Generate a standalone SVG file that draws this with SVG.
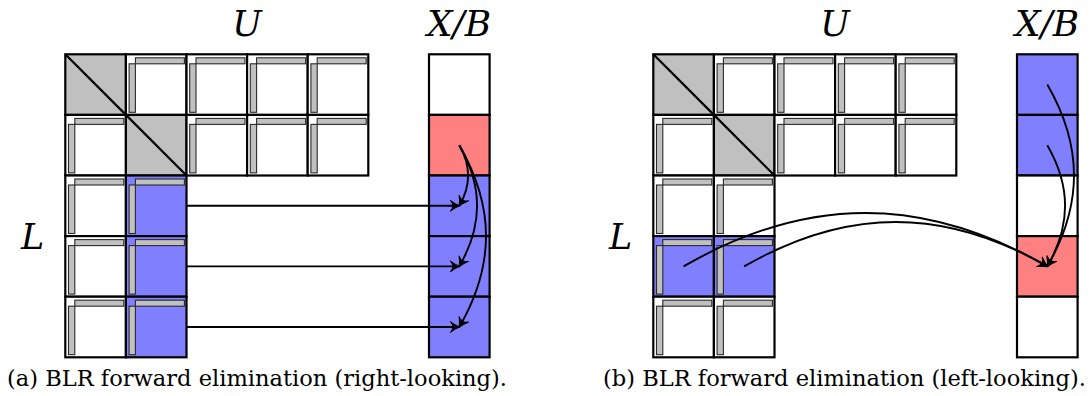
<svg xmlns="http://www.w3.org/2000/svg" xmlns:xlink="http://www.w3.org/1999/xlink" width="1091" height="396" viewBox="0 0 1091 396">
<style>
.cell{stroke:#000;stroke-width:2.2}
.w{fill:#fff}.g{fill:#c0c0c0}.b{fill:#8080ff}.r{fill:#ff8080}
.bar rect{fill:#c0c0c0;stroke:#2a2a2a;stroke-width:1.1}
.diag{stroke:#000;stroke-width:2.2}
.arr{fill:none;stroke:#000;stroke-width:1.9;marker-end:url(#ah)}
.math{font-family:"DejaVu Serif","Liberation Serif",serif;font-style:italic;font-size:35px;fill:#000}
.cap{font-family:"DejaVu Serif","Liberation Serif",serif;font-size:22px;fill:#000}
</style>
<defs>
<g id="bars" class="bar"><rect x="9.5" y="3.5" width="49" height="6"/><rect x="3.2" y="9.5" width="6.3" height="48.5"/></g>
<g id="dg"><rect class="cell g" width="60.6" height="60.6"/><line class="diag" x1="0" y1="0" x2="60.6" y2="60.6"/></g>
<g id="lw"><rect class="cell w" width="60.6" height="60.6"/><use xlink:href="#bars"/></g>
<g id="lb"><rect class="cell b" width="60.6" height="60.6"/><use xlink:href="#bars"/></g>
<marker id="ah" viewBox="-11 -7 13 14" refX="0" refY="0" markerWidth="13" markerHeight="14" markerUnits="userSpaceOnUse" orient="auto"><path d="M0.5,0 Q-4,-1.6 -9,-5.5 Q-6.2,-2 -6.6,0 Q-6.2,2 -9,5.5 Q-4,1.6 0.5,0 Z" fill="#000" stroke="#000" stroke-width="0.9" stroke-linejoin="round"/></marker>
</defs>

<!-- (a) right-looking -->
<g id="a-labels">
<text class="math" x="247" y="36" text-anchor="middle">U</text>
<text class="math" x="459" y="36" text-anchor="middle" textLength="64" lengthAdjust="spacingAndGlyphs">X/B</text>
<text class="math" x="21" y="249">L</text>
</g>
<g id="a-matrix">
<g id="a-r0c0"><use xlink:href="#dg" x="65.3" y="54.3"/></g>
<g id="a-r0c1"><use xlink:href="#lw" x="125.9" y="54.3"/></g>
<g id="a-r0c2"><use xlink:href="#lw" x="186.5" y="54.3"/></g>
<g id="a-r0c3"><use xlink:href="#lw" x="247.1" y="54.3"/></g>
<g id="a-r0c4"><use xlink:href="#lw" x="307.7" y="54.3"/></g>
<g id="a-r1c0"><use xlink:href="#lw" x="65.3" y="114.9"/></g>
<g id="a-r1c1"><use xlink:href="#dg" x="125.9" y="114.9"/></g>
<g id="a-r1c2"><use xlink:href="#lw" x="186.5" y="114.9"/></g>
<g id="a-r1c3"><use xlink:href="#lw" x="247.1" y="114.9"/></g>
<g id="a-r1c4"><use xlink:href="#lw" x="307.7" y="114.9"/></g>
<g id="a-r2c0"><use xlink:href="#lw" x="65.3" y="175.5"/></g>
<g id="a-r2c1"><use xlink:href="#lb" x="125.9" y="175.5"/></g>
<g id="a-r3c0"><use xlink:href="#lw" x="65.3" y="236.1"/></g>
<g id="a-r3c1"><use xlink:href="#lb" x="125.9" y="236.1"/></g>
<g id="a-r4c0"><use xlink:href="#lw" x="65.3" y="296.7"/></g>
<g id="a-r4c1"><use xlink:href="#lb" x="125.9" y="296.7"/></g>
</g>
<g id="a-vector">
<g id="a-v0"><rect class="cell w" x="429" y="54.3" width="60.6" height="60.6"/></g>
<g id="a-v1"><rect class="cell r" x="429" y="114.9" width="60.6" height="60.6"/></g>
<g id="a-v2"><rect class="cell b" x="429" y="175.5" width="60.6" height="60.6"/></g>
<g id="a-v3"><rect class="cell b" x="429" y="236.1" width="60.6" height="60.6"/></g>
<g id="a-v4"><rect class="cell b" x="429" y="296.7" width="60.6" height="60.6"/></g>
</g>
<g id="a-connectors">
<path class="arr" d="M186.5,205.8 H459.3"/>
<path class="arr" d="M186.5,266.4 H459.3"/>
<path class="arr" d="M186.5,327 H459.3"/>
<path class="arr" d="M459.3,145.2 C471.2,165.7 471.2,185.3 459.3,205.8"/>
<path class="arr" d="M459.3,145.2 C483,186.3 483,225.3 459.3,266.4"/>
<path class="arr" d="M459.3,145.2 C494.9,206.8 494.9,265.4 459.3,327"/>
</g>
<text id="cap-a" class="cap" x="7" y="386" textLength="500" lengthAdjust="spacingAndGlyphs">(a) BLR forward elimination (right-looking).</text>

<!-- (b) left-looking -->
<g id="b-labels">
<text class="math" x="835" y="36" text-anchor="middle">U</text>
<text class="math" x="1047" y="36" text-anchor="middle" textLength="64" lengthAdjust="spacingAndGlyphs">X/B</text>
<text class="math" x="609" y="249">L</text>
</g>
<g id="b-matrix">
<g id="b-r0c0"><use xlink:href="#dg" x="653.3" y="54.3"/></g>
<g id="b-r0c1"><use xlink:href="#lw" x="713.9" y="54.3"/></g>
<g id="b-r0c2"><use xlink:href="#lw" x="774.5" y="54.3"/></g>
<g id="b-r0c3"><use xlink:href="#lw" x="835.1" y="54.3"/></g>
<g id="b-r0c4"><use xlink:href="#lw" x="895.7" y="54.3"/></g>
<g id="b-r1c0"><use xlink:href="#lw" x="653.3" y="114.9"/></g>
<g id="b-r1c1"><use xlink:href="#dg" x="713.9" y="114.9"/></g>
<g id="b-r1c2"><use xlink:href="#lw" x="774.5" y="114.9"/></g>
<g id="b-r1c3"><use xlink:href="#lw" x="835.1" y="114.9"/></g>
<g id="b-r1c4"><use xlink:href="#lw" x="895.7" y="114.9"/></g>
<g id="b-r2c0"><use xlink:href="#lw" x="653.3" y="175.5"/></g>
<g id="b-r2c1"><use xlink:href="#lw" x="713.9" y="175.5"/></g>
<g id="b-r3c0"><use xlink:href="#lb" x="653.3" y="236.1"/></g>
<g id="b-r3c1"><use xlink:href="#lb" x="713.9" y="236.1"/></g>
<g id="b-r4c0"><use xlink:href="#lw" x="653.3" y="296.7"/></g>
<g id="b-r4c1"><use xlink:href="#lw" x="713.9" y="296.7"/></g>
</g>
<g id="b-vector">
<g id="b-v0"><rect class="cell b" x="1017" y="54.3" width="60.6" height="60.6"/></g>
<g id="b-v1"><rect class="cell b" x="1017" y="114.9" width="60.6" height="60.6"/></g>
<g id="b-v2"><rect class="cell w" x="1017" y="175.5" width="60.6" height="60.6"/></g>
<g id="b-v3"><rect class="cell r" x="1017" y="236.1" width="60.6" height="60.6"/></g>
<g id="b-v4"><rect class="cell w" x="1017" y="296.7" width="60.6" height="60.6"/></g>
</g>
<g id="b-connectors">
<path class="arr" d="M1047.3,84.6 C1082.9,146.2 1082.9,204.8 1047.3,266.4"/>
<path class="arr" d="M1047.3,145.2 C1071,186.3 1071,225.3 1047.3,266.4"/>
<path class="arr" d="M683.6,266.4 C806.9,195.2 924,195.2 1047.3,266.4"/>
<path class="arr" d="M744.2,266.4 C847,207.1 944.5,207.1 1047.3,266.4"/>
</g>
<text id="cap-b" class="cap" x="603" y="386" textLength="483" lengthAdjust="spacingAndGlyphs">(b) BLR forward elimination (left-looking).</text>
</svg>
